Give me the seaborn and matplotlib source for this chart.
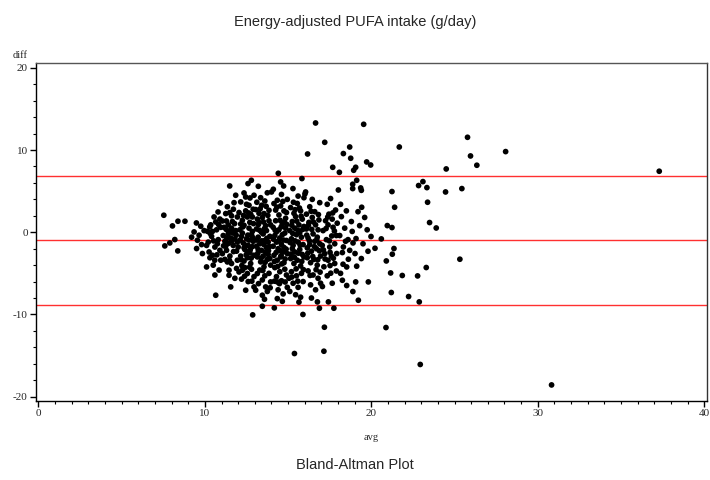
import matplotlib
matplotlib.use("Agg")
import matplotlib.pyplot as plt
from matplotlib.ticker import MultipleLocator
import seaborn as sns
import pandas as pd

# (avg, diff) pairs, grouped by avg band
left_band = [(7.53, 2.07), (8.05, 0.77), (8.38, 1.34), (8.80, 1.34), (7.59, -1.66), (7.89, -1.30),
             (8.19, -0.89), (8.37, -2.27), (9.49, 1.13), (9.35, 0.04), (9.55, -0.97), (9.65, -0.36),
             (9.50, -1.98), (9.85, -2.59), (9.75, 0.73), (9.95, 0.20), (9.20, -0.60), (9.80, -1.50)]
band_10 = [(10.10, -4.22), (10.29, 0.65), (10.15, 0.12), (10.55, 1.86), (10.79, 2.47), (10.93, 3.56),
           (10.65, 1.25), (10.45, -2.80), (10.59, -3.40), (10.95, -3.40), (10.65, -7.66), (10.20, -1.20),
           (10.40, -0.50), (10.60, -1.80), (10.80, -0.90), (10.35, 0.90), (10.70, 0.30), (10.90, -2.20),
           (10.25, -2.40), (10.50, -4.00), (10.85, -4.60), (10.75, -1.40), (10.10, -1.60), (10.95, 0.60),
           (10.45, 0.10), (10.60, -5.20), (10.90, 1.60), (10.30, -3.10),
           (10.52, -1.05), (10.72, -2.75), (10.32, -0.15), (10.82, 0.95)]
band_11 = [(11.05, 1.37), (11.29, 1.37), (11.25, 2.27), (11.49, 2.39), (11.71, 2.80), (11.85, 4.50),
           (11.49, 5.63), (11.35, -3.61), (11.45, -4.62), (11.45, -5.23), (11.55, -6.65), (11.95, -3.40),
           (11.95, 1.86), (11.10, -0.40), (11.20, -1.10), (11.40, -0.20), (11.60, 0.50), (11.80, -0.80),
           (11.30, -2.20), (11.70, -1.60), (11.50, -2.90), (11.90, -2.30), (11.15, 0.60), (11.65, 1.30),
           (11.85, 0.20), (11.35, 3.10), (11.75, 3.60), (11.55, -0.70), (11.25, -1.70), (11.90, -4.40),
           (11.60, -3.80), (11.80, -5.60), (11.40, 0.90), (11.70, -0.10), (11.05, -2.60), (11.95, -1.20),
           (11.60, 2.00), (11.20, -3.30),
           (11.12, -1.65), (11.32, -0.75), (11.52, 0.15), (11.72, -2.35), (11.88, -0.35), (11.42, -1.35),
           (11.62, -1.05), (11.28, 0.35), (11.78, 1.05), (11.48, -3.45)]
band_12 = [(12.15, 3.69), (12.35, 4.78), (12.45, 4.29), (12.59, 5.92), (12.79, 6.32), (12.95, 4.50),
           (12.71, 4.17), (12.65, 3.28), (12.25, 1.46), (12.55, 1.86), (12.85, 1.86), (12.35, 0.85),
           (12.05, -4.83), (12.25, -4.62), (12.55, -5.02), (12.45, -7.05), (12.95, -6.65), (12.87, -10.05),
           (12.10, 0.30), (12.20, -0.50), (12.30, -1.30), (12.40, -2.10), (12.50, -0.80), (12.60, -1.60),
           (12.70, -2.50), (12.80, -0.30), (12.90, -1.10), (12.15, -2.90), (12.35, -3.50), (12.55, -3.10),
           (12.75, -3.80), (12.95, -2.80), (12.05, 2.40), (12.45, 2.60), (12.65, 0.50), (12.85, 0.10),
           (12.25, -0.10), (12.70, 1.20), (12.90, 2.80), (12.40, -4.30), (12.80, -4.50), (12.60, -6.00),
           (12.20, -5.70), (12.50, 3.40), (12.00, -1.80), (12.65, -0.95), (12.35, -1.90), (12.85, -1.75),
           (12.15, 1.00), (12.95, -5.40), (12.75, 2.20), (12.55, -2.40),
           (12.12, -0.95), (12.28, 0.65), (12.42, -1.55), (12.58, -0.35), (12.72, -2.15), (12.88, -0.65),
           (12.18, -3.35), (12.48, -2.75), (12.78, -3.15), (12.32, 2.05), (12.62, 2.35), (12.92, 1.05),
           (12.22, -4.05), (12.68, -4.25), (12.38, -5.35), (12.82, -5.95)]
band_13 = [(13.21, 5.59), (13.05, 2.76), (13.41, 3.28), (13.55, 2.27), (13.85, 2.67), (13.05, -7.05),
           (13.45, -7.66), (13.65, -6.65), (13.95, -6.04), (13.45, -9.00), (13.15, -5.02), (13.10, 0.40),
           (13.20, -0.60), (13.30, -1.40), (13.40, -2.20), (13.50, -0.20), (13.60, -1.00), (13.70, -1.90),
           (13.80, -2.70), (13.90, -0.50), (13.15, -3.00), (13.35, -3.60), (13.55, -4.20), (13.75, -3.30),
           (13.95, -4.00), (13.25, 1.20), (13.45, 1.80), (13.65, 0.80), (13.85, 1.40), (13.35, 4.20),
           (13.75, 4.80), (13.60, 3.80), (13.20, -2.10), (13.50, -2.90), (13.80, -1.20), (13.40, 0.00),
           (13.70, 0.20), (13.90, -3.20), (13.30, -4.60), (13.60, -5.30), (13.85, -5.00), (13.10, -1.70),
           (13.65, -2.45), (13.95, 0.90), (13.25, 2.30), (13.55, -1.50), (13.45, -5.80), (13.75, -7.20),
           (13.15, 1.60),
           (13.12, -0.95), (13.28, 0.25), (13.42, -1.05), (13.58, 0.45), (13.72, -0.75), (13.88, -1.75),
           (13.18, -2.55), (13.38, -3.15), (13.62, -3.65), (13.82, -2.25), (13.22, 0.95), (13.52, 1.25),
           (13.78, 2.05), (13.32, 2.85), (13.68, 3.15), (13.48, -4.65), (13.22, -6.25), (13.92, -6.75),
           (13.58, -8.15), (13.12, 3.65)]
band_14 = [(14.41, 7.17), (14.55, 6.12), (14.73, 5.63), (14.11, 5.23), (14.00, 4.90), (14.15, 3.49),
           (14.35, 3.89), (14.17, -9.20), (14.35, -6.04), (14.35, -8.07), (14.10, 0.60), (14.20, -0.40),
           (14.30, -1.20), (14.40, -2.00), (14.50, -0.70), (14.60, -1.50), (14.70, -2.40), (14.80, -0.10),
           (14.90, -1.00), (14.15, -2.80), (14.35, -3.40), (14.55, -3.00), (14.75, -3.70), (14.95, -2.60),
           (14.25, 1.40), (14.45, 2.10), (14.65, 1.00), (14.85, 1.70), (14.55, 3.20), (14.75, 2.60),
           (14.95, 4.00), (14.20, -4.30), (14.50, -4.80), (14.80, -4.50), (14.30, -5.40), (14.60, -5.90),
           (14.90, -5.20), (14.40, -7.00), (14.70, -7.50), (14.95, -6.70), (14.45, 0.30), (14.65, -0.30),
           (14.85, 0.50), (14.25, 2.70), (14.60, 4.60), (14.10, -1.70), (14.75, -1.85), (14.50, -2.20),
           (14.30, 0.05), (14.90, 2.40), (14.65, -8.40),
           (14.12, -0.85), (14.28, -2.45), (14.42, -1.05), (14.58, 0.65), (14.72, -0.95), (14.88, -2.05),
           (14.18, -3.55), (14.38, -4.15), (14.62, -3.85), (14.82, -3.25), (14.22, 0.25), (14.52, 1.45),
           (14.78, 1.25), (14.32, 3.05), (14.68, 3.75), (14.48, -6.25), (14.82, -6.05), (14.18, -5.95),
           (14.58, -2.85), (14.92, 0.95)]
band_15 = [(15.29, 5.31), (15.83, 6.53), (15.38, -14.75), (15.89, -10.00), (15.10, 0.20), (15.20, -0.80),
           (15.30, -1.60), (15.40, -2.40), (15.50, -0.30), (15.60, -1.20), (15.70, -2.10), (15.80, -0.60),
           (15.90, -1.50), (15.15, -3.20), (15.35, -3.80), (15.55, -3.40), (15.75, -4.10), (15.95, -3.00),
           (15.25, 1.30), (15.45, 1.90), (15.65, 0.90), (15.85, 1.60), (15.15, 3.00), (15.55, 3.50),
           (15.75, 2.60), (15.95, 4.20), (15.20, -4.80), (15.50, -5.30), (15.80, -5.00), (15.30, -6.20),
           (15.60, -6.70), (15.90, -6.00), (15.45, -7.60), (15.75, -7.90), (15.05, -5.60), (15.40, 0.50),
           (15.70, -0.05), (15.35, 2.30), (15.95, 0.70), (15.60, 4.40), (15.25, -2.00), (15.85, -2.70),
           (15.10, -7.20), (15.65, -8.50),
           (15.12, -1.25), (15.28, -0.15), (15.42, -1.05), (15.58, 0.25), (15.72, -1.55), (15.88, 0.35),
           (15.18, -2.65), (15.38, -3.05), (15.62, -2.55), (15.82, -3.55), (15.22, 0.85), (15.52, 1.35),
           (15.78, 1.95), (15.32, 3.65), (15.68, 2.95), (15.48, -4.45), (15.22, -5.45), (15.92, -4.55),
           (15.58, -5.95), (15.42, 2.75)]
band_16 = [(16.65, 13.29), (16.17, 9.52), (16.05, 4.90), (16.01, 4.66), (16.88, -9.24), (16.76, -8.47),
           (16.10, 0.40), (16.20, -0.70), (16.30, -1.50), (16.40, -2.30), (16.50, -0.20), (16.60, -1.10),
           (16.70, -2.00), (16.80, 0.30), (16.90, -1.40), (16.15, -3.10), (16.35, -3.70), (16.55, -3.30),
           (16.75, -4.00), (16.95, -2.90), (16.25, 1.20), (16.45, 1.80), (16.65, 0.90), (16.85, 1.50),
           (16.30, 3.10), (16.60, 2.50), (16.90, 3.60), (16.20, -4.70), (16.50, -5.20), (16.80, -5.60),
           (16.35, -6.40), (16.65, -7.00), (16.95, -6.20), (16.10, 2.20), (16.45, 4.00), (16.75, -0.60),
           (16.40, -8.00), (16.15, -1.90),
           (16.12, -0.35), (16.28, -1.05), (16.42, 0.35), (16.58, -1.75), (16.72, -0.95), (16.88, -2.25),
           (16.18, -2.55), (16.48, -2.95), (16.78, -3.35), (16.22, 0.85), (16.52, 1.25), (16.82, 2.15),
           (16.38, 2.55), (16.68, -4.55), (16.32, -5.25), (16.92, -4.85)]
band_17 = [(17.20, 10.94), (17.68, 7.90), (17.15, -14.47), (17.18, -11.55), (17.75, -9.24), (17.42, -8.47),
           (17.06, -6.60), (17.90, -4.71), (17.56, -4.98), (17.92, -2.59), (17.10, 0.20), (17.30, -0.90),
           (17.50, -1.80), (17.70, 0.60), (17.90, -0.40), (17.20, -2.60), (17.40, -3.40), (17.60, -2.90),
           (17.80, -3.80), (17.25, 1.40), (17.45, 2.20), (17.65, 1.60), (17.85, 2.70), (17.35, 3.40),
           (17.55, 4.10), (17.15, -4.20), (17.35, -5.30), (17.65, -6.20), (17.95, 1.10), (17.80, -1.40),
           (17.40, 0.90), (17.05, -1.60),
           (17.12, -2.15), (17.28, 0.45), (17.48, -1.05), (17.62, -0.45), (17.78, 0.15), (17.22, -3.25),
           (17.52, -2.45), (17.72, -3.15), (17.38, 1.85), (17.68, 2.35), (17.52, -4.05)]
band_18 = [(18.70, 10.37), (18.32, 9.57), (18.76, 9.00), (18.08, 7.29), (18.94, 7.54), (18.88, 5.84),
           (18.02, 5.14), (18.88, 5.31), (18.89, -7.21), (18.52, -6.48), (18.26, -5.84), (18.62, -3.28),
           (18.30, -3.89), (18.52, -4.22), (18.26, -2.47), (18.32, -1.79), (18.10, -0.40), (18.40, 0.50),
           (18.60, -0.90), (18.80, 1.30), (18.20, 1.90), (18.50, 2.60), (18.70, -2.20), (18.90, -1.30),
           (18.15, 3.40), (18.45, -1.10), (18.85, 0.10), (18.15, -5.00)]
band_19 = [(19.54, 13.13), (19.72, 8.55), (19.96, 8.18), (19.06, 7.90), (19.12, 6.32), (19.36, 5.39),
           (19.40, 5.10), (19.42, 3.04), (19.22, -8.27), (19.82, -6.04), (19.06, -6.04), (19.80, -2.31),
           (19.98, -0.52), (19.08, -0.77), (19.40, -3.20), (19.02, -2.59), (19.12, -4.13), (19.30, 0.80),
           (19.60, 1.80), (19.50, -1.40), (19.20, 2.50), (19.75, 0.30)]
right_band = [(20.22, -1.95), (20.60, -0.81), (20.96, 0.81), (21.24, 0.57), (20.88, -11.59), (21.20, -7.33),
              (21.16, -4.95), (20.90, -3.49), (21.26, -2.67), (21.36, -1.98), (21.68, 10.37), (21.24, 4.95),
              (21.40, 3.04), (21.86, -5.26), (22.24, -7.82), (22.78, -5.31), (22.84, 5.68), (22.88, -8.47),
              (22.94, -16.08), (23.10, 6.16), (23.30, -4.29), (23.34, 5.43), (23.38, 3.65), (23.50, 1.18),
              (23.90, 0.52), (24.46, 4.90), (24.50, 7.70), (25.32, -3.28), (25.44, 5.31), (25.78, 11.55),
              (25.96, 9.28), (26.34, 8.15), (28.07, 9.81), (30.83, -18.57), (37.30, 7.42)]

mean_diff = -1.0
lower_loa = -8.8
upper_loa = 6.8

title_text = "Energy-adjusted PUFA intake (g/day)"
footnote_text = "Bland-Altman Plot"
x_label = "avg"
y_label = "diff"

points = (left_band + band_10 + band_11 + band_12 + band_13 + band_14 + band_15
          + band_16 + band_17 + band_18 + band_19 + right_band)
df = pd.DataFrame(points, columns=["avg", "diff"])

sns.set_theme(style="ticks")
plt.rcParams["font.family"] = ["Liberation Serif", "DejaVu Serif"]
plt.rcParams["axes.unicode_minus"] = False

fig = plt.figure(figsize=(7.1, 4.8), dpi=100)
ax = fig.add_axes([0.0507, 0.165, 0.9446, 0.704])

for yv in (upper_loa, mean_diff, lower_loa):
    ax.axhline(yv, color="#ff3030", lw=1.0, zorder=1)

sns.scatterplot(data=df, x="avg", y="diff", ax=ax, color="black", s=17,
                edgecolor="none", linewidth=0, zorder=3, legend=False)

ax.set_xlim(-0.15, 40.15)
ax.set_ylim(-20.5, 20.6)
ax.xaxis.set_major_locator(MultipleLocator(10))
ax.xaxis.set_minor_locator(MultipleLocator(1))
ax.yaxis.set_major_locator(MultipleLocator(10))
ax.yaxis.set_minor_locator(MultipleLocator(2))
ax.tick_params(axis="both", which="major", length=4, width=1, color="black",
               labelsize=8, pad=2, direction="out")
ax.tick_params(axis="both", which="minor", length=2.5, width=0.8, color="black", direction="out")
for sp in ax.spines.values():
    sp.set_visible(True)
    sp.set_color("black")
    sp.set_linewidth(1.0)
ax.spines["top"].set_color("#555555")
ax.spines["right"].set_color("#333333")

ax.set_xlabel("")
ax.set_ylabel("")
fig.text(371 / 710, 1 - 437 / 480, x_label, ha="center", va="center", fontsize=7.5)
fig.text(20 / 710, 1 - 56 / 480, y_label, ha="center", va="center", fontsize=7.5)

fig.text(355 / 710, 1 - 22 / 480, title_text, ha="center", va="center", fontsize=10.5,
         family=["Liberation Sans", "DejaVu Sans"])
fig.text(355 / 710, 1 - 465 / 480, footnote_text, ha="center", va="center", fontsize=10.5,
         family=["Liberation Sans", "DejaVu Sans"])

fig.savefig("out.png", dpi=100)
